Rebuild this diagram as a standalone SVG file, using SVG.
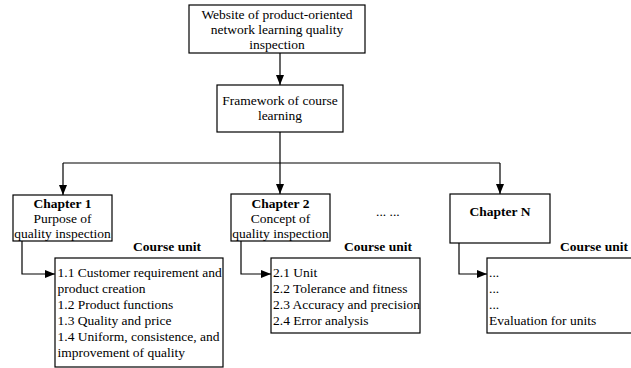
<svg xmlns="http://www.w3.org/2000/svg" width="631" height="368" viewBox="0 0 631 368">
<defs>
<style>
rect{fill:#fff;stroke:#000;stroke-width:1.2}
text{font-size:13.5px;fill:#000}
.c{text-anchor:middle}
.b{font-weight:bold}
.ln{fill:none;stroke:#000;stroke-width:1.2}
</style>
<marker id="ah" markerWidth="10" markerHeight="8" refX="10" refY="4" orient="auto" markerUnits="userSpaceOnUse">
<path d="M0,0 L10,4 L0,8 Z" fill="#000"/>
</marker>
</defs>
<rect x="0" y="0" width="631" height="368" style="stroke:none;fill:#fff"/>
<g font-family="Liberation Serif, DejaVu Serif, serif">
<g id="connectors">
<path class="ln" d="M280,53 V85" marker-end="url(#ah)"/>
<path class="ln" d="M280,132 V163"/>
<path class="ln" d="M63,163 H500"/>
<path class="ln" d="M63,163 V195" marker-end="url(#ah)"/>
<path class="ln" d="M280,163 V194" marker-end="url(#ah)"/>
<path class="ln" d="M500,163 V194" marker-end="url(#ah)"/>
<path class="ln" d="M22,241 V274 H55" marker-end="url(#ah)"/>
<path class="ln" d="M241,241 V274 H271" marker-end="url(#ah)"/>
<path class="ln" d="M459,243 V274 H487" marker-end="url(#ah)"/>
</g>
<g id="website">
<rect x="189" y="5" width="176" height="48"/>
<text class="c" x="277" y="19">Website of product-oriented</text>
<text class="c" x="277" y="34">network learning quality</text>
<text class="c" x="277" y="49">inspection</text>
</g>
<g id="framework">
<rect x="217" y="85" width="126" height="47"/>
<text class="c" x="280" y="104.5">Framework of course</text>
<text class="c" x="280" y="120">learning</text>
</g>
<g id="chapter1">
<rect x="13" y="195" width="99" height="46"/>
<text class="c b" x="62.5" y="207.5">Chapter 1</text>
<text class="c" x="62.5" y="222.5">Purpose of</text>
<text class="c" x="62.5" y="237.5">quality inspection</text>
</g>
<g id="chapter2">
<rect x="231" y="194" width="99" height="47"/>
<text class="c b" x="280.5" y="207.5">Chapter 2</text>
<text class="c" x="280.5" y="222.5">Concept of</text>
<text class="c" x="280.5" y="237.5">quality inspection</text>
</g>
<text x="376" y="216">... ...</text>
<g id="chapterN">
<rect x="450" y="194" width="100" height="49"/>
<text class="c b" x="500" y="216">Chapter N</text>
</g>
<g id="units1">
<text class="c b" x="167" y="251">Course unit</text>
<rect x="55" y="258" width="168" height="109"/>
<text x="57.5" y="277">1.1 Customer requirement and</text>
<text x="57.5" y="293">product creation</text>
<text x="57.5" y="309">1.2 Product functions</text>
<text x="57.5" y="325">1.3 Quality and price</text>
<text x="57.5" y="341">1.4 Uniform, consistence, and</text>
<text x="57.5" y="357">improvement of quality</text>
</g>
<g id="units2">
<text class="c b" x="378" y="251">Course unit</text>
<rect x="271" y="258" width="149" height="75"/>
<text x="273" y="277">2.1 Unit</text>
<text x="273" y="293">2.2 Tolerance and fitness</text>
<text x="273" y="309">2.3 Accuracy and precision</text>
<text x="273" y="325">2.4 Error analysis</text>
</g>
<g id="unitsN">
<text class="c b" x="594" y="251">Course unit</text>
<rect x="487" y="258" width="160" height="75"/>
<text x="489" y="277">...</text>
<text x="489" y="293">...</text>
<text x="489" y="309">...</text>
<text x="489" y="325">Evaluation for units</text>
</g>
</g>
</svg>
